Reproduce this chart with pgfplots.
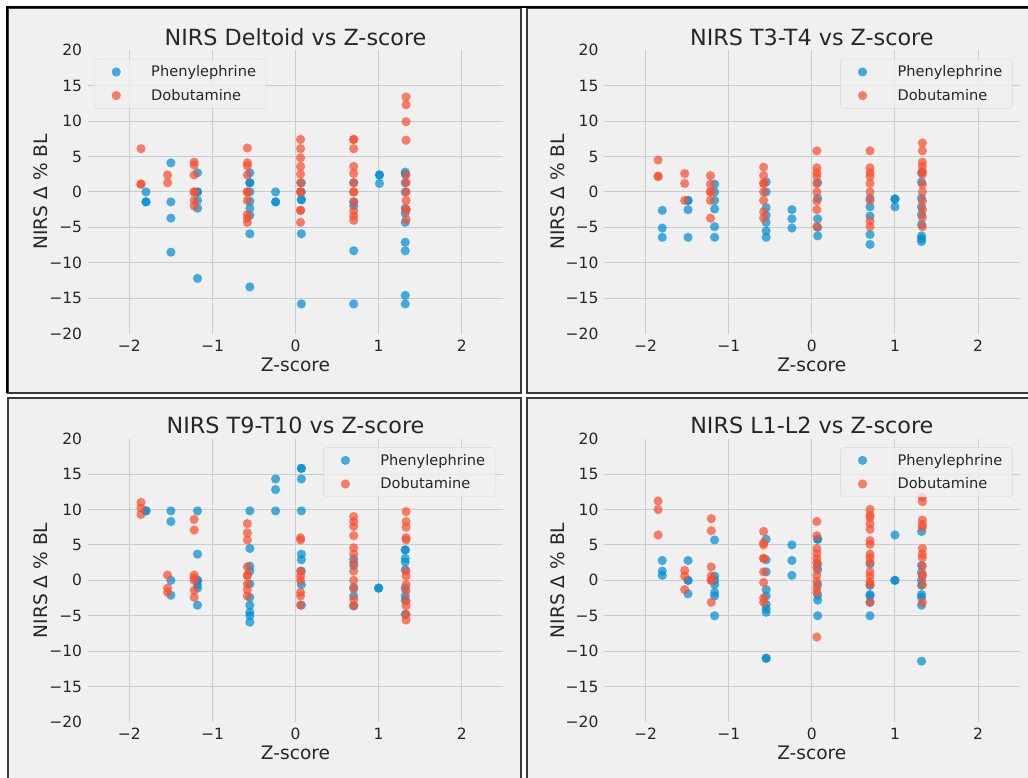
\documentclass[border=0pt]{standalone}
\usepackage{fontspec}
\setmainfont{DejaVu Sans}
\usepackage{pgfplots}
\pgfplotsset{compat=1.18}
\definecolor{bgc}{HTML}{F0F0F0}
\definecolor{gridc}{HTML}{CBCBCB}
\definecolor{cblue}{HTML}{008FD5}
\definecolor{cred}{HTML}{FC4F30}
\definecolor{legc}{HTML}{D8D8D8}
\definecolor{framec}{HTML}{3A3A3A}
\pgfplotsset{
  panel/.style={
    scale only axis, width=415.5pt, height=283.5pt, anchor=south west,
    xmin=-2.5, xmax=2.5, ymin=-20, ymax=20,
    xtick={-2,-1,0,1,2}, xticklabels={−2,−1,0,1,2},
    ytick={-20,-15,-10,-5,0,5,10,15,20},
    yticklabels={−20,−15,−10,−5,0,5,10,15,20},
    xmajorgrids=true, ymajorgrids=false,
    extra y ticks={-15,-10,-5,0,5,10,15}, extra y tick labels={},
    extra y tick style={ymajorgrids=true},
    major grid style={color=gridc, line width=1pt},
    axis line style={draw=none},
    major tick length=0pt,
    tick label style={font=\fontsize{15.5}{18}\selectfont, text=black!85},
    yticklabel style={anchor=east, inner sep=0pt, xshift=-5.5pt},
    xticklabel style={anchor=north, inner sep=0pt, yshift=-6pt},
    xlabel={Z-score}, ylabel={NIRS Δ \% BL},
    label style={font=\fontsize{18.6}{22}\selectfont, text=black!85},
    xlabel style={at={(axis description cs:0.5,0)}, anchor=base, yshift=-37.5pt},
    ylabel style={at={(axis description cs:-0.0958,0.5)}, anchor=base, rotate=0},
    title style={font=\fontsize{22.3}{26}\selectfont, text=black!85, at={(axis description cs:0.5,1)}, anchor=base, yshift=-1pt},
    legend cell align=left,
    legend style={font=\fontsize{14.6}{17}\selectfont, fill=bgc, fill opacity=0.8, text opacity=1,
      draw=legc, rounded corners=3pt, inner xsep=8pt, inner ysep=4.5pt, row sep=7pt,
      text=black!85},
    legend image code/.code={\path[draw=none,fill=none] (0pt,-4pt) rectangle (47pt,4pt); \draw[##1] plot coordinates {(14pt,0pt)};},
    clip=false,
  },
  pheny/.style={only marks, mark=*, mark size=4.6pt, color=cblue, mark options={fill=cblue, draw=cblue, fill opacity=0.72, draw opacity=0}},
  dobu/.style={only marks, mark=*, mark size=4.6pt, color=cred, mark options={fill=cred, draw=cred, fill opacity=0.72, draw opacity=0}},
}
\begin{document}
\begin{tikzpicture}[x=1pt,y=1pt]
\path[use as bounding box] (0,0) rectangle (1028,778);
\fill[white] (0,0) rectangle (1028,778);
\fill[bgc] (8,770) rectangle (521,385);
\fill[bgc] (527,770) rectangle (1032,385);
\fill[bgc] (8,380) rectangle (521,-2);
\fill[bgc] (527,380) rectangle (1032,-2);
\draw[framec, line width=2pt] (8,770) rectangle (521,385);
\draw[framec, line width=2pt] (527,770) rectangle (1032,385);
\draw[framec, line width=2pt] (8,380) rectangle (521,-2);
\draw[framec, line width=2pt] (527,380) rectangle (1032,-2);
\draw[black, line width=2pt] (7,385) -- (7,771) -- (1030,771);

% Panel 1: Deltoid
\begin{axis}[panel, at={(87.8pt,444.3pt)}, title={NIRS Deltoid vs Z-score},
  legend style={at={(axis description cs:0.015,0.969)}, anchor=north west}]
\addplot[pheny] coordinates {
(-1.80,0) (-1.80,-1.4) (-1.80,-1.4)
(-1.50,4.1) (-1.50,-1.4) (-1.50,-3.7) (-1.50,-8.5)
(-1.18,2.7) (-1.18,0) (-1.18,0) (-1.18,-1.2) (-1.18,-2.3) (-1.18,-12.2)
(-0.55,2.7) (-0.55,1.3) (-0.55,1.3) (-0.55,0) (-0.55,-1.3) (-0.55,-2.3) (-0.55,-3.3) (-0.55,-5.9) (-0.55,-13.4)
(-0.24,0) (-0.24,-1.4) (-0.24,-1.4)
(0.07,1.3) (0.07,0) (0.07,-1.1) (0.07,-1.1) (0.07,-5.9) (0.07,-15.8)
(0.70,1.3) (0.70,-1.4) (0.70,-2.0) (0.70,-8.3) (0.70,-15.8)
(1.01,2.4) (1.01,2.4) (1.01,1.2)
(1.32,2.8) (1.32,2.5) (1.32,1.3) (1.32,0) (1.32,-2.3) (1.32,-3.0) (1.32,-4.3) (1.32,-7.1) (1.32,-8.3) (1.32,-14.6) (1.32,-15.8)
};
\addplot[dobu] coordinates {
(-1.86,6.1) (-1.86,1.1) (-1.86,1.1)
(-1.54,2.4) (-1.54,1.3)
(-1.22,4.2) (-1.22,3.8) (-1.22,2.4) (-1.22,0) (-1.22,0) (-1.22,-1.2) (-1.22,-2.0)
(-0.58,6.2) (-0.58,4.1) (-0.58,3.7) (-0.58,2.4) (-0.58,0) (-0.58,0) (-0.58,-1.2) (-0.58,-3.2) (-0.58,-3.7) (-0.58,-4.3)
(0.06,7.4) (0.06,6.1) (0.06,4.8) (0.06,3.6) (0.06,2.5) (0.06,1.3) (0.06,0) (0.06,0) (0.06,-2.6) (0.06,-2.6) (0.06,-4.3)
(0.70,7.4) (0.70,7.4) (0.70,6.1) (0.70,3.6) (0.70,2.6) (0.70,1.3) (0.70,0) (0.70,0) (0.70,-1.4) (0.70,-2.7) (0.70,-3.4) (0.70,-4.0)
(1.33,13.4) (1.33,12.3) (1.33,9.9) (1.33,7.3) (1.33,2.4) (1.33,1.3) (1.33,0) (1.33,-1.2) (1.33,-2.5) (1.33,-2.5) (1.33,-3.9)
};
\legend{Phenylephrine, Dobutamine}
\end{axis}

% Panel 2: T3-T4
\begin{axis}[panel, at={(604.1pt,444.3pt)}, title={NIRS T3-T4 vs Z-score},
  legend style={at={(axis description cs:0.983,0.969)}, anchor=north east}]
\addplot[pheny] coordinates {
(-1.80,-2.6) (-1.80,-5.1) (-1.80,-6.4)
(-1.49,-1.2) (-1.49,-1.2) (-1.49,-2.5) (-1.49,-6.4)
(-1.17,1.1) (-1.17,0) (-1.17,-1.2) (-1.17,-2.4) (-1.17,-4.9) (-1.17,-6.4)
(-0.55,1.4) (-0.55,0) (-0.55,-2.2) (-0.55,-3.3) (-0.55,-4.3) (-0.55,-5.5) (-0.55,-6.4)
(-0.24,-2.5) (-0.24,-3.8) (-0.24,-5.1)
(0.07,1.3) (0.07,-0.9) (0.07,-3.8) (0.07,-5.0) (0.07,-6.2)
(0.70,-0.9) (0.70,-2.1) (0.70,-3.4) (0.70,-6.0) (0.70,-7.4)
(1.0,-1.0) (1.0,-1.0) (1.0,-2.1)
(1.32,2.7) (1.32,1.4) (1.32,-0.9) (1.32,-2.1) (1.32,-3.2) (1.32,-4.6) (1.32,-6.2) (1.32,-6.6) (1.32,-7.0)
};
\addplot[dobu] coordinates {
(-1.85,4.5) (-1.85,2.2) (-1.85,2.2)
(-1.53,2.6) (-1.53,1.2) (-1.53,-1.2)
(-1.22,2.3) (-1.22,1.1) (-1.22,0) (-1.22,0) (-1.22,-1.2) (-1.22,-3.7)
(-0.58,3.5) (-0.58,2.3) (-0.58,1.2) (-0.58,1.2) (-0.58,0) (-0.58,-1.2) (-0.58,-2.8) (-0.58,-3.7)
(0.06,5.8) (0.06,3.4) (0.06,2.7) (0.06,2.2) (0.06,1.2) (0.06,0) (0.06,-1.3) (0.06,-2.5) (0.06,-4.9)
(0.70,5.8) (0.70,3.4) (0.70,2.7) (0.70,2.2) (0.70,1.2) (0.70,0) (0.70,-1.2) (0.70,-4.1) (0.70,-4.9)
(1.33,6.9) (1.33,5.8) (1.33,4.2) (1.33,3.6) (1.33,2.9) (1.33,2.5) (1.33,1.1) (1.33,0) (1.33,-1.3) (1.33,-2.5) (1.33,-3.6) (1.33,-4.9)
};
\legend{Phenylephrine, Dobutamine}
\end{axis}

% Panel 3: T9-T10
\begin{axis}[panel, at={(87.8pt,55.9pt)}, title={NIRS T9-T10 vs Z-score},
  legend style={at={(axis description cs:0.981,0.969)}, anchor=north east}]
\addplot[pheny] coordinates {
(-1.80,9.8) (-1.80,9.8)
(-1.50,9.8) (-1.50,8.3) (-1.50,0) (-1.50,-2.1)
(-1.18,9.8) (-1.18,3.7) (-1.18,0) (-1.18,0) (-1.18,-0.6) (-1.18,-1.1) (-1.18,-3.5)
(-0.55,9.8) (-0.55,4.5) (-0.55,2.0) (-0.55,1.3) (-0.55,-0.5) (-0.55,-2.4) (-0.55,-3.5) (-0.55,-4.5) (-0.55,-5.0) (-0.55,-5.9)
(-0.24,14.3) (-0.24,12.8) (-0.24,9.8)
(0.07,15.8) (0.07,15.8) (0.07,14.3) (0.07,9.8) (0.07,3.7) (0.07,2.9) (0.07,1.3) (0.07,-0.6) (0.07,-3.5)
(0.70,3.0) (0.70,2.1) (0.70,-1.0) (0.70,-2.2) (0.70,-3.6)
(1.0,-1.1) (1.0,-1.1)
(1.32,4.3) (1.32,4.3) (1.32,3.1) (1.32,2.6) (1.32,1.5) (1.32,-1.1) (1.32,-2.2) (1.32,-2.8) (1.32,-4.8)
};
\addplot[dobu] coordinates {
(-1.86,11.0) (-1.86,10.2) (-1.86,9.3)
(-1.54,0.75) (-1.54,-1.1) (-1.54,-1.7)
(-1.22,8.6) (-1.22,7.1) (-1.22,0.75) (-1.22,0.3) (-1.22,0) (-1.22,-1.4) (-1.22,-2.4)
(-0.58,8.0) (-0.58,6.7) (-0.58,5.7) (-0.58,1.9) (-0.58,0.7) (-0.58,0.7) (-0.58,-0.5) (-0.58,-1.3) (-0.58,-2.2)
(0.06,6.0) (0.06,5.7) (0.06,1.3) (0.06,0.6) (0.06,0) (0.06,-1.7) (0.06,-2.2) (0.06,-3.5)
(0.70,9.0) (0.70,8.3) (0.70,7.6) (0.70,6.3) (0.70,4.6) (0.70,3.7) (0.70,2.5) (0.70,1.3) (0.70,0) (0.70,-1.2) (0.70,-2.7) (0.70,-3.6)
(1.33,9.7) (1.33,8.3) (1.33,7.5) (1.33,6.0) (1.33,5.7) (1.33,1.3) (1.33,0.6) (1.33,-0.6) (1.33,-1.5) (1.33,-2.9) (1.33,-3.6) (1.33,-4.8) (1.33,-5.6)
};
\legend{Phenylephrine, Dobutamine}
\end{axis}

% Panel 4: L1-L2
\begin{axis}[panel, at={(604.1pt,55.9pt)}, title={NIRS L1-L2 vs Z-score},
  legend style={at={(axis description cs:0.983,0.969)}, anchor=north east}]
\addplot[pheny] coordinates {
(-1.80,2.8) (-1.80,1.3) (-1.80,0.7)
(-1.49,2.8) (-1.49,0) (-1.49,0) (-1.49,-1.9)
(-1.17,5.7) (-1.17,0.6) (-1.17,0) (-1.17,-0.6) (-1.17,-1.7) (-1.17,-2.2) (-1.17,-5.0)
(-0.55,5.8) (-0.55,2.9) (-0.55,1.2) (-0.55,-1.3) (-0.55,-2.2) (-0.55,-3.4) (-0.55,-4.0) (-0.55,-4.5) (-0.55,-11.0) (-0.55,-11.0)
(-0.24,5.0) (-0.24,2.8) (-0.24,0.7)
(0.07,5.8) (0.07,5.8) (0.07,2.3) (0.07,1.5) (0.07,-0.6) (0.07,-2.1) (0.07,-2.8) (0.07,-5.0)
(0.70,2.3) (0.70,-0.7) (0.70,-2.0) (0.70,-2.2) (0.70,-3.1) (0.70,-5.0)
(1.0,6.4) (1.0,0) (1.0,0)
(1.32,6.9) (1.32,2.1) (1.32,1.1) (1.32,0) (1.32,-0.7) (1.32,-2.0) (1.32,-2.4) (1.32,-3.5) (1.32,-11.4)
};
\addplot[dobu] coordinates {
(-1.85,11.2) (-1.85,10.0) (-1.85,6.4)
(-1.53,1.4) (-1.53,0.6) (-1.53,-1.3)
(-1.21,8.7) (-1.21,7.0) (-1.21,1.9) (-1.21,0.6) (-1.21,0) (-1.21,0) (-1.21,-3.1)
(-0.58,6.9) (-0.58,5.3) (-0.58,5.0) (-0.58,3.1) (-0.58,3.1) (-0.58,1.2) (-0.58,-0.3) (-0.58,-2.5) (-0.58,-3.1)
(0.06,8.3) (0.06,6.3) (0.06,4.5) (0.06,3.8) (0.06,3.1) (0.06,2.5) (0.06,1.8) (0.06,0.7) (0.06,-0.2) (0.06,-1.1) (0.06,-1.7) (0.06,-8.0)
(0.70,10.0) (0.70,9.2) (0.70,8.9) (0.70,8.0) (0.70,7.2) (0.70,5.6) (0.70,5.1) (0.70,3.7) (0.70,3.2) (0.70,2.5) (0.70,1.2) (0.70,0.6) (0.70,-0.2) (0.70,-0.6) (0.70,-3.1)
(1.33,11.7) (1.33,11.1) (1.33,8.5) (1.33,7.9) (1.33,7.5) (1.33,4.5) (1.33,3.7) (1.33,3.2) (1.33,2.0) (1.33,0.8) (1.33,0.6) (1.33,-0.6) (1.33,-3.1)
};
\legend{Phenylephrine, Dobutamine}
\end{axis}
\end{tikzpicture}
\end{document}
